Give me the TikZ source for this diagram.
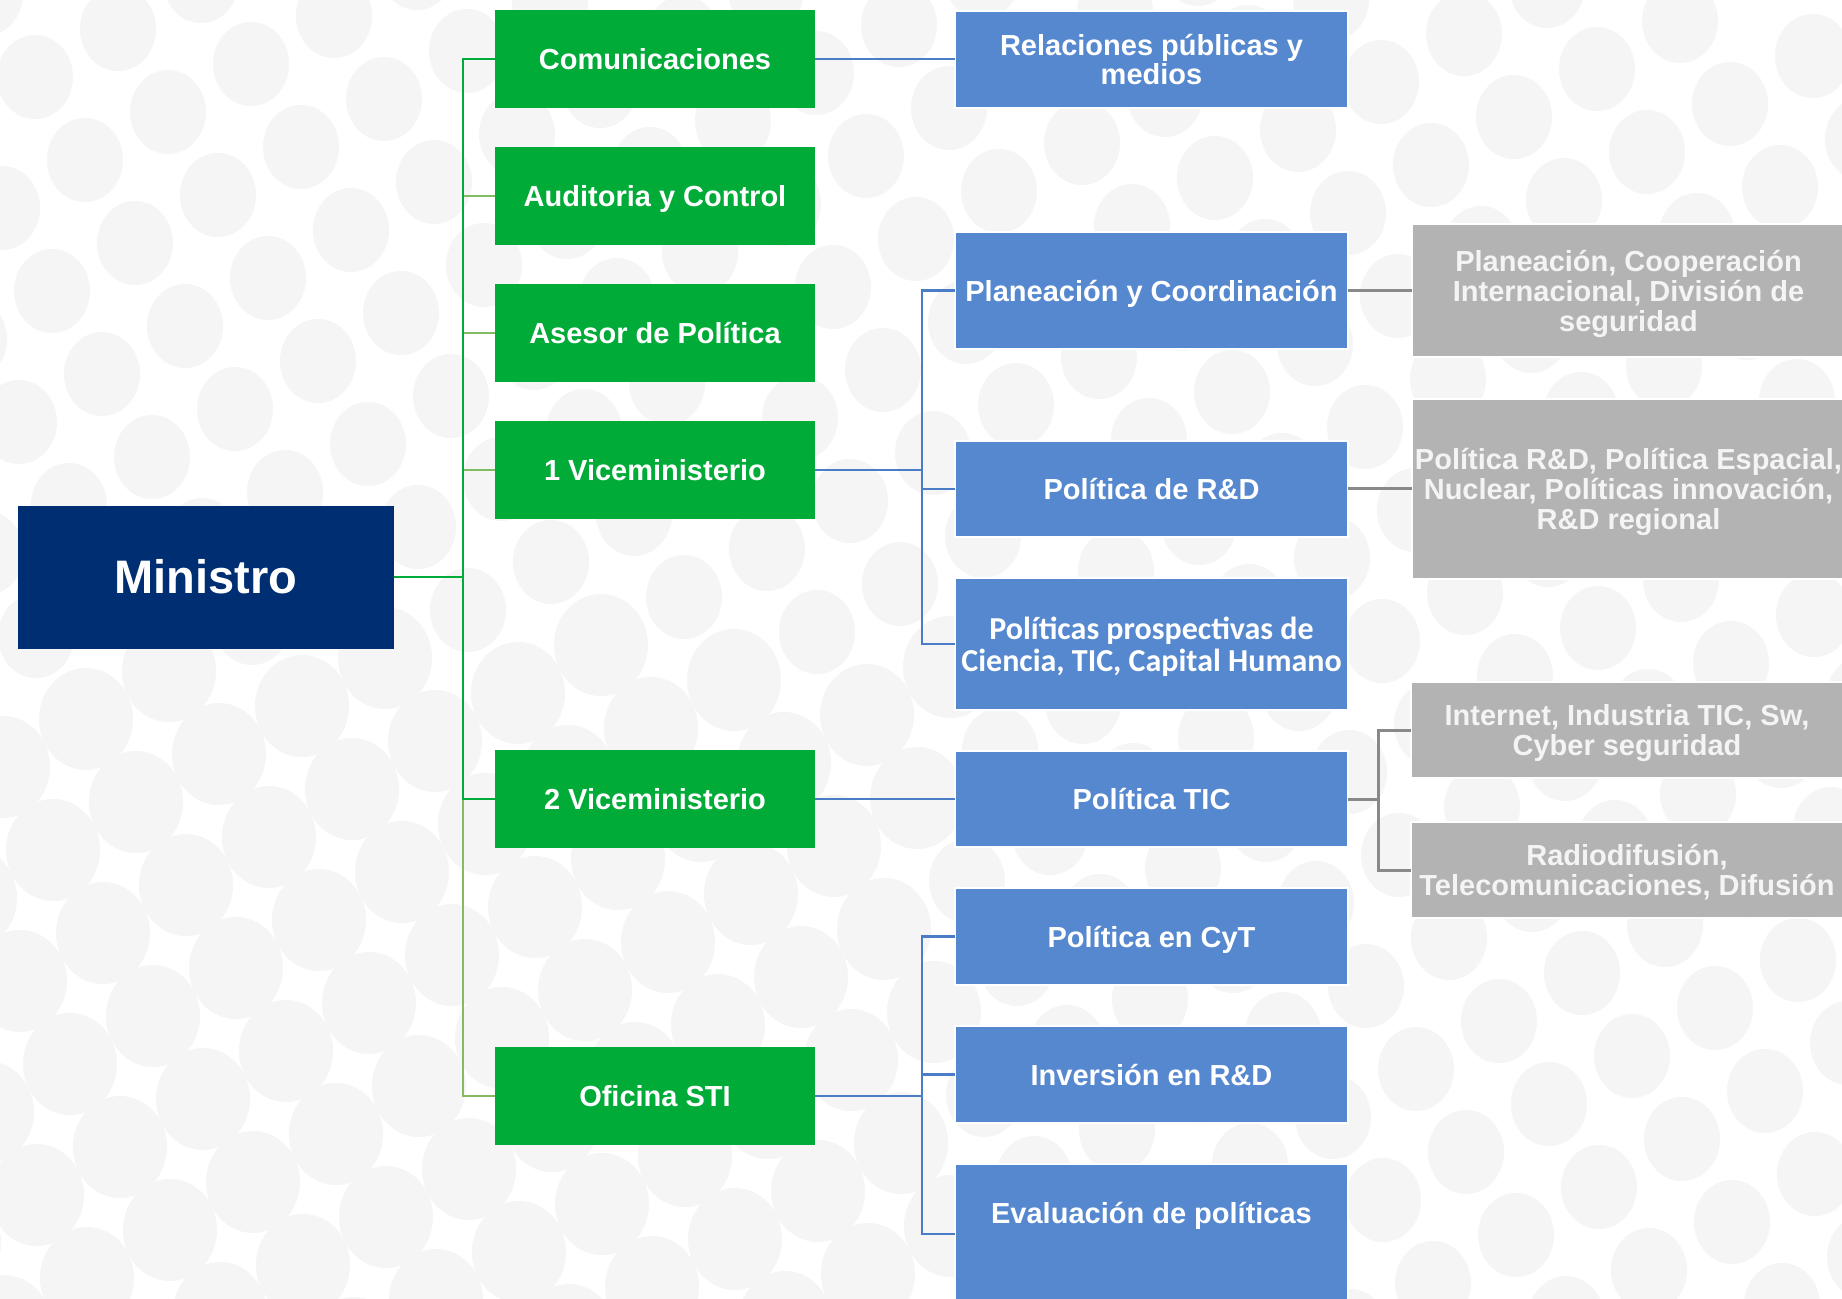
\documentclass[tikz,border=0pt]{standalone}
\usepackage{fontspec}
\setmainfont{Liberation Sans}
\newfontfamily\calfont{Carlito}
\usetikzlibrary{positioning}
\definecolor{minblue}{RGB}{0,46,115}
\definecolor{grfill}{RGB}{0,171,56}
\definecolor{blfill}{RGB}{86,136,207}
\definecolor{gyfill}{RGB}{179,179,179}
\definecolor{gytext}{RGB}{244,244,244}
\definecolor{dkgreen}{RGB}{0,171,56}
\definecolor{ltgreen}{RGB}{130,188,98}
\definecolor{blcol}{RGB}{74,124,200}
\definecolor{gycol}{RGB}{137,137,137}
\definecolor{blobgray}{RGB}{245,245,245}

\begin{document}
\begin{tikzpicture}[
x=0.5pt, y=-0.5pt,
node distance = 19.5pt and 64pt,
minbox/.style={rectangle, fill=minblue, text=white, outer sep=0pt, minimum width=188pt, minimum height=71.5pt, font=\bfseries\fontsize{23.5}{26}\selectfont},
greenbox/.style={rectangle, fill=grfill, text=white, outer sep=0pt, text depth=0pt, minimum width=160pt, minimum height=49pt, font=\bfseries\fontsize{14.5}{15}\selectfont},
bluebox/.style={rectangle, fill=blfill, draw=white, line width=1pt, outer sep=0pt, text depth=0pt, text=white, minimum width=196.5pt, minimum height=48.5pt, inner sep=1pt, align=center, font=\bfseries\fontsize{14.5}{14.5}\selectfont},
graybox/.style={rectangle, fill=gyfill, draw=white, line width=1pt, outer sep=0pt, text depth=0pt, text=gytext, minimum width=216.5pt, inner sep=1pt, align=center, font=\bfseries\fontsize{14.5}{15}\selectfont},
dkline/.style={draw=dkgreen, line width=1.1pt},
ltline/.style={draw=ltgreen, line width=1.1pt},
blline/.style={draw=blcol, line width=1.1pt},
gyline/.style={draw=gycol, line width=1.5pt},
blob/.style={fill=blobgray}]

\useasboundingbox (0,0) rectangle (1842,1299);
\fill[white] (0,0) rectangle (1842,1299);
\begin{scope}
\clip (0,0) rectangle (1842,1299);
\foreach \i in {-14,...,16} \foreach \j in {-7,...,18} {
  \pgfmathsetmacro\bx{35+133*\i+50*\j}
  \pgfmathsetmacro\by{77+35*\i+83*\j}
  \pgfmathsetmacro\br{(\bx<960 && \by>640) ? 47 : 38}
  \pgfmathsetmacro\bry{\br+4}
  \fill[blob] (\bx,\by) ellipse [x radius=\br, y radius=\bry];
}
\end{scope}

\node[minbox] (min) at (206,577) {Ministro};

\node[greenbox] (com) at (655,59) {Comunicaciones};
\node[greenbox] (aud) [below = of com] {Auditoria y Control};
\node[greenbox] (ase) [below = of aud] {Asesor de Política};
\node[greenbox] (vice1) [below = of ase] {1 Viceministerio};
\node[greenbox] (vice2) at (655,799) {2 Viceministerio};
\node[greenbox] (sti) at (655,1096) {Oficina STI};

\node[bluebox] (rel) at (1151.5,59.5) {Relaciones públicas y\\medios};
\node[bluebox, minimum height=58.5pt] (plan) at (1151.5,290.5) {Planeación y Coordinación};
\node[bluebox, minimum height=48pt] (rd) [below = 46pt of plan] {Política de R\&D};
\node[bluebox, minimum height=66pt, font=\calfont\bfseries\fontsize{16}{16}\selectfont] (prosp) [below = 20.5pt of rd] {Políticas prospectivas de\\Ciencia, TIC, Capital Humano};
\node[bluebox, minimum height=48pt] (tic) [below = 20.5pt of prosp] {Política TIC};
\node[bluebox] (cyt) [below = 20.5pt of tic] {Política en CyT};
\node[bluebox] (inv) [below = 20.5pt of cyt] {Inversión en R\&D};
\node[bluebox, minimum height=70pt] (eval) [below = 20.5pt of inv] {Evaluación de políticas\\[7pt]\mbox{}};

\node[graybox, minimum height=66.5pt] (plang) at (1628.5,290.5) {Planeación, Cooperación\\Internacional, División de\\seguridad};
\node[graybox, minimum height=90pt] (rdg) at (1628.5,489) {Política R\&D, Política Espacial,\\Nuclear, Políticas innovación,\\R\&D regional};
\node[graybox, minimum height=48pt] (net) at (1627,730) {Internet, Industria TIC, Sw,\\Cyber seguridad};
\node[graybox, minimum height=48pt] (radio) [below = 22pt of net] {Radiodifusión,\\Telecomunicaciones, Difusión};

\draw[ltline] (min.east) -- ++(69,0) |- (aud.west);
\draw[ltline] (min.east) -- ++(69,0) |- (ase.west);
\draw[ltline] (min.east) -- ++(69,0) |- (vice1.west);
\draw[ltline] (min.east) -- ++(69,0) |- (sti.west);
\draw[dkline] (min.east) -- ++(69,0) |- (com.west);
\draw[dkline] (min.east) -- ++(69,0) |- (vice2.west);

\draw[blline] (com.east) -- (com.east -| rel.west);
\draw[blline] (vice1.east) -- ++(107,0) |- (plan.west);
\draw[blline] (vice1.east) -- ++(107,0) |- (rd.west);
\draw[blline] (vice1.east) -- ++(107,0) |- (prosp.west);
\draw[blline] (vice2.east) -- (vice2.east -| tic.west);
\draw[blline] (sti.east) -- ++(107,0) |- (cyt.west);
\draw[blline] (sti.east) -- ++(107,0) |- (inv.west);
\draw[blline] (sti.east) -- ++(107,0) |- (eval.west);

\draw[gyline] (plan.east) -- (plang.west);
\draw[gyline] (rd.east) -- (rd.east -| rdg.west);
\draw[gyline] (tic.east) -- ++(30,0) |- (net.west);
\draw[gyline] (tic.east) -- ++(30,0) |- (radio.west);
\end{tikzpicture}
\end{document}
